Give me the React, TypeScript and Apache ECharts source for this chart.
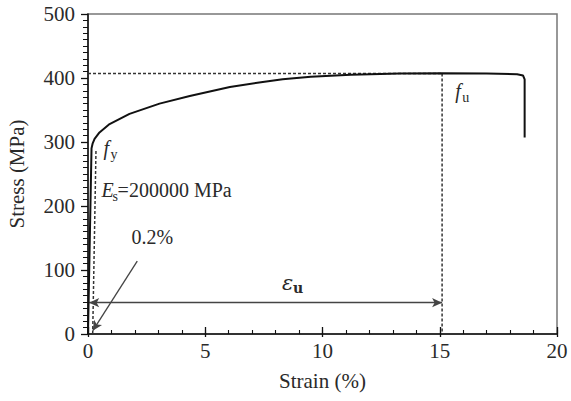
import React, { useEffect, useRef } from "react";
import * as echarts from "echarts";

// Stress–strain curve (strain in %, stress in MPa)
const strain = [0, 0.15, 0.2, 0.28, 0.49, 0.92, 1.77, 3.05, 4.34, 6.05, 7.3, 8.3, 9.5, 11.2, 13.3, 15.1, 17.0, 18.3, 18.55, 18.62, 18.62];
const stress = [0, 290, 298, 305, 315, 328, 344, 360, 372, 386, 393, 398, 402, 405, 407, 407.5, 407, 406, 404, 398, 307];

// 0.2% offset line
const offsetStrain = [0.2, 0.34];
const offsetStress = [0, 286];

// ultimate point
const ultimateStrain = 15.1;
const ultimateStress = 407;

// epsilon_u arrow level
const arrowStrainStart = 0.05;
const arrowStress = 49;

// 0.2% pointer arrow
const pointerFrom = [2.1, 114];
const pointerTo = [0.2, 5];

const xMin = 0, xMax = 20, xStep = 5, xMinorStep = 1;
const yMin = 0, yMax = 500, yStep = 100, yMinorStep = 10;

const SERIF = "'Liberation Serif', 'Times New Roman', serif";
const TXT = "#2a2a2a";

export default function App() {
  const ref = useRef<HTMLDivElement>(null);
  useEffect(() => {
    if (!ref.current) return;
    const chart = echarts.init(ref.current, undefined, { renderer: "svg" });
    const curve = strain.map((s, i) => [s, stress[i]]);
    const tickOnly = (extra: any) => ({
      type: "value", gridIndex: 0,
      axisLine: { show: false }, axisLabel: { show: false }, splitLine: { show: false },
      ...extra,
    });
    const option: any = {
      animation: false,
      backgroundColor: "#fff",
      grid: {
        left: 88, right: 14, top: 14, bottom: 67, show: true,
        borderColor: "#777", borderWidth: 1.5, backgroundColor: "transparent",
        containLabel: false, outerBoundsMode: "none",
      },
      xAxis: [
        {
          type: "value", min: xMin, max: xMax, interval: xStep,
          name: "Strain (%)", nameLocation: "middle", nameGap: 36,
          nameTextStyle: { fontFamily: SERIF, fontSize: 21, color: TXT },
          axisLine: { show: true, lineStyle: { color: "#111", width: 1.5 } },
          axisTick: { show: true, inside: true, length: 7, lineStyle: { color: "#111", width: 1.3 } },
          axisLabel: { fontFamily: SERIF, fontSize: 21, color: TXT, margin: 6 },
          splitLine: { show: false },
        },
        tickOnly({ min: xMin, max: xMax, interval: xMinorStep, position: "bottom",
          axisTick: { show: true, inside: true, length: 4, lineStyle: { color: "#111", width: 1.1 } } }),
        tickOnly({ min: xMin, max: xMax, interval: xStep, position: "bottom",
          axisTick: { show: true, inside: false, length: 3, lineStyle: { color: "#111", width: 1.3 } } }),
      ],
      yAxis: [
        {
          type: "value", min: yMin, max: yMax, interval: yStep,
          name: "Stress (MPa)", nameLocation: "middle", nameGap: 61,
          nameTextStyle: { fontFamily: SERIF, fontSize: 21, color: TXT },
          axisLine: { show: true, lineStyle: { color: "#111", width: 1.5 } },
          axisTick: { show: true, inside: false, length: 7, lineStyle: { color: "#111", width: 1.3 } },
          axisLabel: { fontFamily: SERIF, fontSize: 21, color: TXT, margin: 13 },
          splitLine: { show: false },
        },
        tickOnly({ min: yMin, max: yMax, interval: yMinorStep, position: "left",
          axisTick: { show: true, inside: false, length: 5, lineStyle: { color: "#111", width: 1 } } }),
      ],
      series: [
        {
          type: "line", data: curve, symbol: "none", smooth: false,
          lineStyle: { color: "#111", width: 2 }, z: 5,
        },
        {
          type: "line", data: [[xMin, ultimateStress], [ultimateStrain, ultimateStress]], symbol: "none",
          lineStyle: { color: "#333", width: 1.5, type: [3, 2] },
        },
        {
          type: "line", data: [[ultimateStrain, ultimateStress], [ultimateStrain, yMin]], symbol: "none",
          lineStyle: { color: "#333", width: 1.5, type: [3, 2] },
        },
        {
          type: "line", data: offsetStrain.map((s, i) => [s, offsetStress[i]]), symbol: "none",
          lineStyle: { color: "#333", width: 1.5, type: [3, 2] },
        },
        {
          type: "line", data: [], symbol: "none",
          markLine: {
            silent: true, animation: false,
            symbol: ["arrow", "arrow"], symbolSize: [7, 10],
            label: { show: false },
            lineStyle: { color: "#444", width: 1.3, type: "solid" },
            data: [
              [{ coord: [arrowStrainStart, arrowStress], symbol: "arrow" }, { coord: [ultimateStrain, arrowStress], symbol: "arrow" }],
              [{ coord: pointerFrom, symbol: "none" }, { coord: pointerTo, symbol: "arrow" }],
            ],
          },
        },
      ],
    };
    chart.setOption(option);

    const px = (x: number, y: number) => chart.convertToPixel({ xAxisIndex: 0, yAxisIndex: 0 }, [x, y]) as number[];
    const txt = (x: number, y: number, text: string, fontSize: number, extra: any = {}) => ({
      type: "text", x, y, silent: true, z: 20,
      style: { text, fontSize, fontFamily: SERIF, fill: TXT, align: "left", verticalAlign: "middle", ...extra },
    });
    const fy = px(0.66, 291);
    const es = px(0.58, 225);
    const p02 = px(1.86, 151);
    const eu = px(8.27, 80);
    const fu = px(15.66, 380);
    chart.setOption({
      graphic: [
        txt(fy[0], fy[1], "f", 20, { fontStyle: "italic" }),
        txt(fy[0] + 7, fy[1] + 7, "y", 14),
        txt(es[0], es[1], "E", 20, { fontStyle: "italic" }),
        txt(es[0] + 11, es[1] + 6, "s", 14),
        txt(es[0] + 16, es[1], "=200000 MPa", 20),
        txt(p02[0], p02[1], "0.2%", 20),
        txt(eu[0], eu[1], "ε", 21, { fontFamily: "'DejaVu Serif', serif", fontStyle: "italic" }),
        txt(eu[0] + 11, eu[1] + 5, "u", 14, { fontFamily: "'DejaVu Serif', serif", fontWeight: "bold" }),
        txt(fu[0], fu[1], "f", 20, { fontStyle: "italic" }),
        txt(fu[0] + 7, fu[1] + 7, "u", 14),
      ],
    });
    return () => chart.dispose();
  }, []);
  return <div ref={ref} style={{ position: "fixed", left: 0, top: 0, width: 571, height: 401 }} />;
}
